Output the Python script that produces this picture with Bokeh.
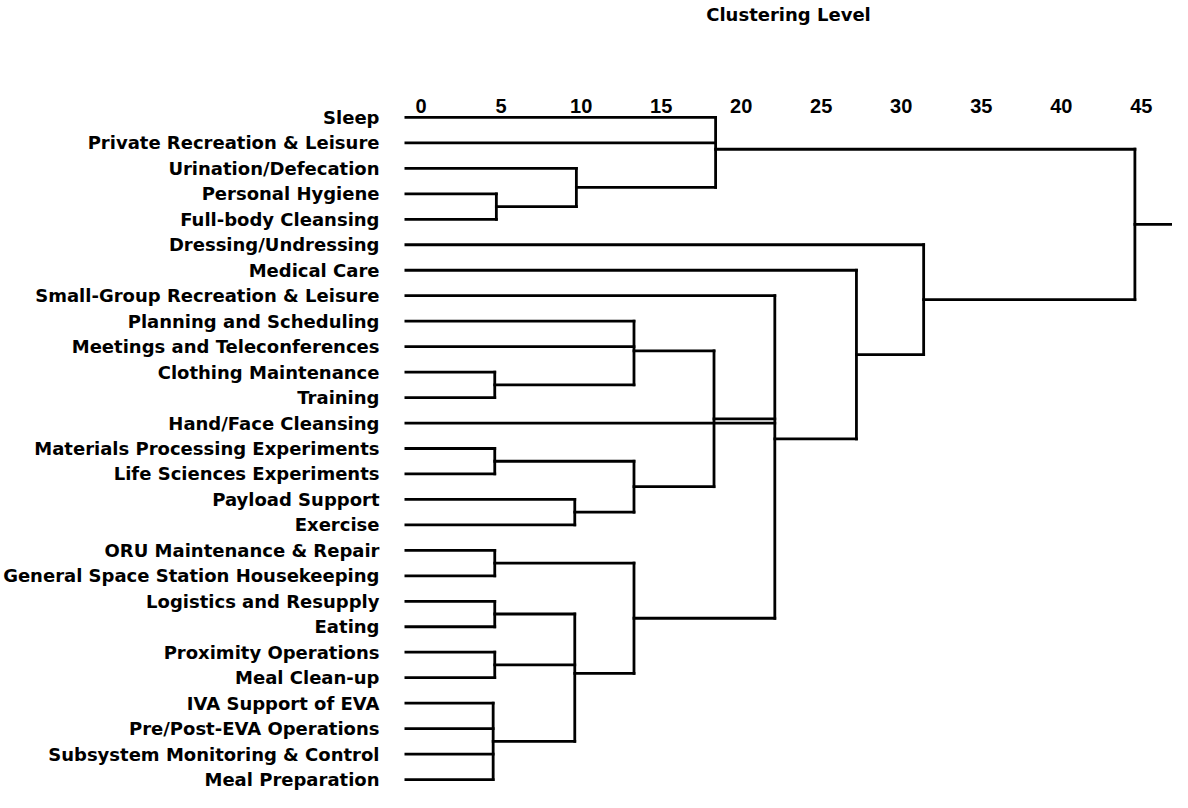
from bokeh.plotting import figure
from bokeh.models import Range1d, FixedTicker
from bokeh.embed import file_html
from bokeh.resources import INLINE

# ---- data ----
activities = [
    "Sleep",
    "Private Recreation & Leisure",
    "Urination/Defecation",
    "Personal Hygiene",
    "Full-body Cleansing",
    "Dressing/Undressing",
    "Medical Care",
    "Small-Group Recreation & Leisure",
    "Planning and Scheduling",
    "Meetings and Teleconferences",
    "Clothing Maintenance",
    "Training",
    "Hand/Face Cleansing",
    "Materials Processing Experiments",
    "Life Sciences Experiments",
    "Payload Support",
    "Exercise",
    "ORU Maintenance & Repair",
    "General Space Station Housekeeping",
    "Logistics and Resupply",
    "Eating",
    "Proximity Operations",
    "Meal Clean-up",
    "IVA Support of EVA",
    "Pre/Post-EVA Operations",
    "Subsystem Monitoring & Control",
    "Meal Preparation",
]

# merges: children (leaf index 0..26, clusters numbered from 27 on) and clustering level
merge_children = [
    [3, 4],            # 27
    [2, 27],           # 28
    [0, 1, 28],        # 29
    [10, 11],          # 30
    [8, 9, 30],        # 31
    [13, 14],          # 32
    [15, 16],          # 33
    [32, 33],          # 34
    [31, 34],          # 35
    [17, 18],          # 36
    [19, 20],          # 37
    [21, 22],          # 38
    [23, 24, 25, 26],  # 39
    [37, 38, 39],      # 40
    [36, 40],          # 41
    [7, 12, 35, 41],   # 42
    [6, 42],           # 43
    [5, 43],           # 44
    [29, 44],          # 45 (root)
]
merge_levels = [4.7, 9.7, 18.4, 4.6, 13.3, 4.6, 9.6, 13.3, 18.3,
                4.6, 4.6, 4.6, 4.5, 9.6, 13.3, 22.1, 27.2, 31.4, 44.6]

level_ticks = [0, 5, 10, 15, 20, 25, 30, 35, 40, 45]

# ---- build dendrogram segments ----
LEAF_START = -1.1
ROOT_END = 48.0

n = len(activities)
node_x = [LEAF_START] * n
node_y = [float(i) for i in range(n)]
xs, ys = [], []
for ch, lvl in zip(merge_children, merge_levels):
    cy = [node_y[c] for c in ch]
    for c in ch:
        xs.append([node_x[c], lvl])
        ys.append([node_y[c], node_y[c]])
    xs.append([lvl, lvl])
    ys.append([min(cy), max(cy)])
    node_x.append(lvl)
    node_y.append(sum(cy) / len(cy))
xs.append([node_x[-1], ROOT_END])
ys.append([node_y[-1], node_y[-1]])

p = figure(width=1172, height=790, output_backend="svg", toolbar_location=None,
           x_range=Range1d(-1.04, 46.95), y_range=Range1d(26.43, -0.351),
           x_axis_location="above",
           min_border_left=402, min_border_top=104,
           min_border_right=0, min_border_bottom=0)
p.outline_line_color = None
p.grid.visible = False

p.multi_line(xs, ys, line_color="black", line_width=2.8, line_cap="square")

# top axis
ax = p.xaxis[0]
ax.ticker = FixedTicker(ticks=level_ticks)
ax.axis_line_color = None
ax.major_tick_line_color = None
ax.minor_tick_line_color = None
ax.major_label_text_font = "Liberation Sans"
ax.major_label_text_font_style = "bold"
ax.major_label_text_font_size = "20px"
ax.major_label_text_color = "black"
ax.major_label_standoff = -10
ax.axis_label = "Clustering Level"
ax.axis_label_text_font = "DejaVu Sans"
ax.axis_label_text_font_style = "bold"
ax.axis_label_text_font_size = "18px"
ax.axis_label_text_color = "black"
ax.axis_label_standoff = 71

# left axis with activity names
ay = p.yaxis[0]
ay.ticker = FixedTicker(ticks=list(range(n)))
ay.major_label_overrides = {i: name for i, name in enumerate(activities)}
ay.axis_line_color = None
ay.major_tick_line_color = None
ay.minor_tick_line_color = None
ay.major_label_text_font = "DejaVu Sans"
ay.major_label_text_font_style = "bold"
ay.major_label_text_font_size = "18px"
ay.major_label_text_color = "black"
ay.major_label_standoff = 19

open("out.html", "w").write(file_html(p, INLINE))
